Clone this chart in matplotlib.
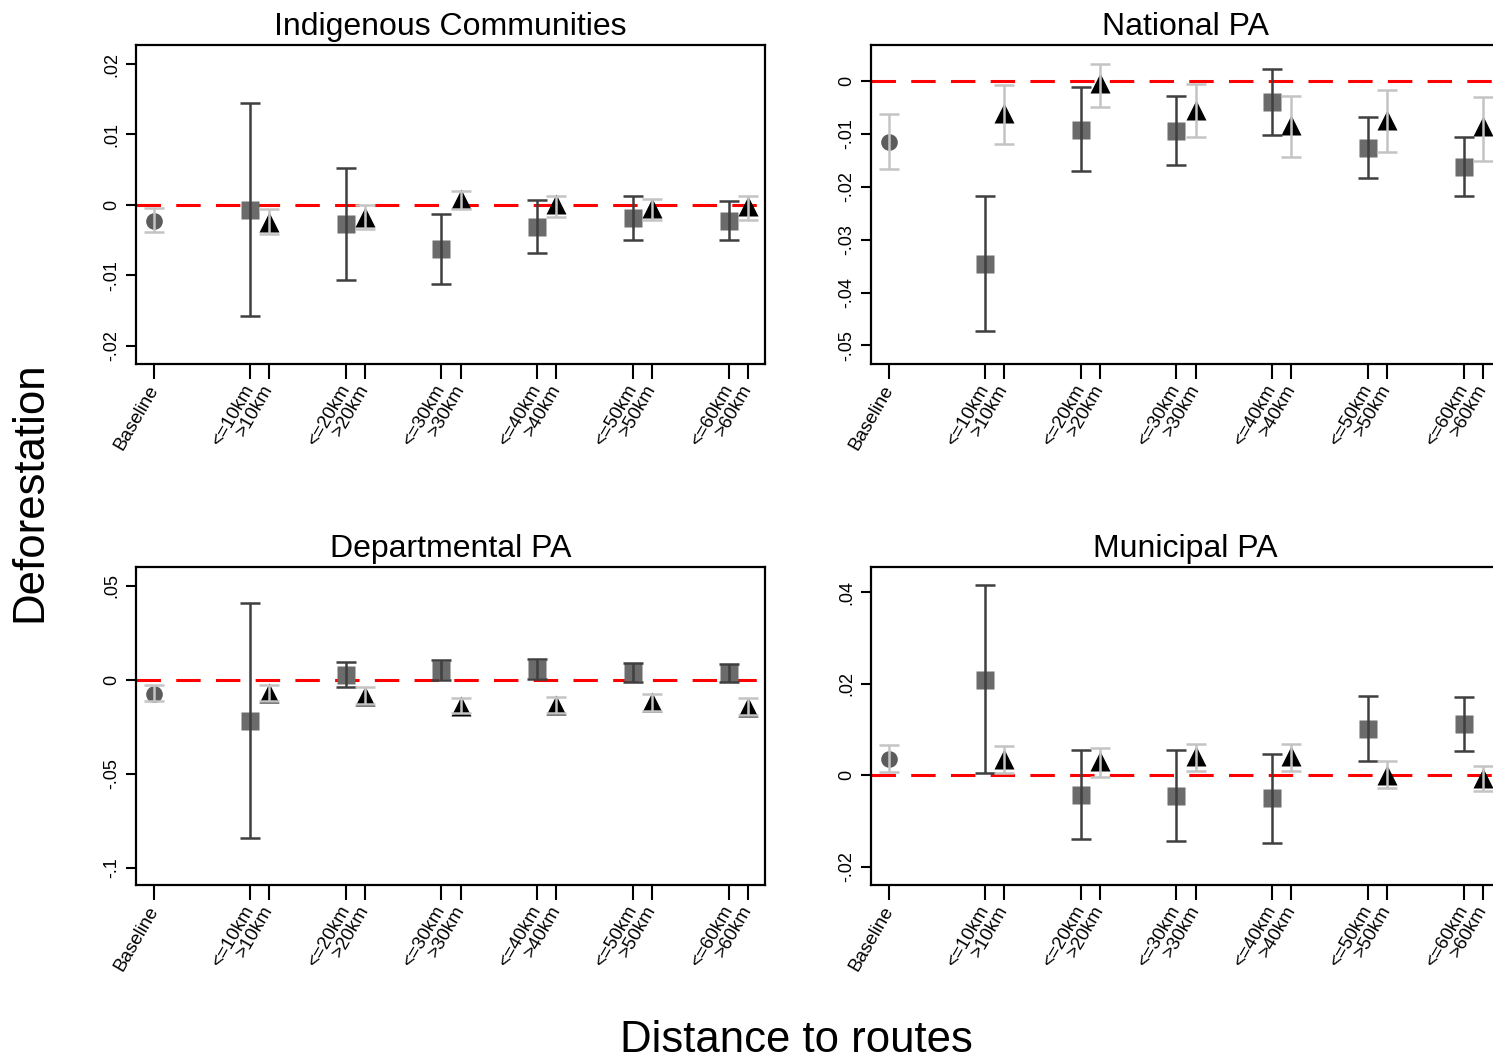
import matplotlib
matplotlib.use('Agg')
import matplotlib.pyplot as plt
import matplotlib.transforms as mtransforms
import numpy as np

plt.rcParams['font.family'] = ['Liberation Sans', 'DejaVu Sans']

# x layout: baseline, then pairs (<=k, >k)
TICK_LABELS = ["Baseline",
               "<=10km", ">10km", "<=20km", ">20km", "<=30km", ">30km",
               "<=40km", ">40km", "<=50km", ">50km", "<=60km", ">60km"]
X_BASE = [0.0]
X_NEAR = [1, 2, 3, 4, 5, 6]
X_FAR = [1.2, 2.2, 3.2, 4.2, 5.2, 6.2]

TITLES = ["Indigenous Communities", "National PA", "Departmental PA", "Municipal PA"]

# Indigenous Communities
ic_base = [-0.0023, -0.0004, -0.0039]
ic_near = [-0.0007, -0.0027, -0.0062, -0.0031, -0.0019, -0.0023]
ic_near_lo = [-0.0158, -0.0107, -0.0112, -0.0069, -0.0050, -0.0050]
ic_near_hi = [0.0145, 0.0053, -0.0013, 0.0007, 0.0013, 0.0006]
ic_far = [-0.0024, -0.0017, 0.0009, 0.0001, -0.0005, -0.0002]
ic_far_lo = [-0.0042, -0.0035, -0.0006, -0.0017, -0.0022, -0.0021]
ic_far_hi = [-0.0006, 0.0000, 0.0020, 0.0012, 0.0009, 0.0013]

# National PA
np_base = [-0.0115, -0.0063, -0.0166]
np_near = [-0.0346, -0.0092, -0.0094, -0.0040, -0.0126, -0.0162]
np_near_lo = [-0.0473, -0.0170, -0.0159, -0.0102, -0.0184, -0.0217]
np_near_hi = [-0.0218, -0.0011, -0.0029, 0.0022, -0.0068, -0.0106]
np_far = [-0.0061, -0.0003, -0.0054, -0.0084, -0.0074, -0.0086]
np_far_lo = [-0.0120, -0.0049, -0.0106, -0.0143, -0.0135, -0.0152]
np_far_hi = [-0.0008, 0.0033, -0.0006, -0.0028, -0.0018, -0.0031]

# Departmental PA
dp_base = [-0.0073, -0.0028, -0.0113]
dp_near = [-0.0216, 0.0025, 0.0055, 0.0060, 0.0041, 0.0037]
dp_near_lo = [-0.0840, -0.0039, 0.0002, 0.0007, -0.0011, -0.0012]
dp_near_hi = [0.0411, 0.0094, 0.0105, 0.0112, 0.0089, 0.0083]
dp_far = [-0.0069, -0.0087, -0.0137, -0.0135, -0.0119, -0.0144]
dp_far_lo = [-0.0113, -0.0128, -0.0177, -0.0176, -0.0163, -0.0188]
dp_far_hi = [-0.0025, -0.0037, -0.0096, -0.0092, -0.0073, -0.0096]

# Municipal PA
mp_base = [0.0035, 0.0065, 0.0006]
mp_near = [0.0209, -0.0043, -0.0046, -0.0050, 0.0102, 0.0112]
mp_near_lo = [0.0004, -0.0139, -0.0144, -0.0148, 0.0031, 0.0052]
mp_near_hi = [0.0416, 0.0056, 0.0056, 0.0047, 0.0173, 0.0171]
mp_far = [0.0035, 0.0031, 0.0041, 0.0041, 0.0001, -0.0007]
mp_far_lo = [0.0004, -0.0003, 0.0009, 0.0009, -0.0029, -0.0035]
mp_far_hi = [0.0064, 0.0059, 0.0069, 0.0068, 0.0031, 0.0020]

panels = [
    (ic_base, ic_near, ic_near_lo, ic_near_hi, ic_far, ic_far_lo, ic_far_hi,
     (-0.0226, 0.0227), [-0.02, -0.01, 0, 0.01, 0.02], ["-.02", "-.01", "0", ".01", ".02"]),
    (np_base, np_near, np_near_lo, np_near_hi, np_far, np_far_lo, np_far_hi,
     (-0.0535, 0.0068), [-0.05, -0.04, -0.03, -0.02, -0.01, 0], ["-.05", "-.04", "-.03", "-.02", "-.01", "0"]),
    (dp_base, dp_near, dp_near_lo, dp_near_hi, dp_far, dp_far_lo, dp_far_hi,
     (-0.109, 0.060), [-0.1, -0.05, 0, 0.05], ["-.1", "-.05", "0", ".05"]),
    (mp_base, mp_near, mp_near_lo, mp_near_hi, mp_far, mp_far_lo, mp_far_hi,
     (-0.0240, 0.0455), [-0.02, 0, 0.02, 0.04], ["-.02", "0", ".02", ".04"]),
]

W, H = 1493, 1061
fig = plt.figure(figsize=(W / 100, H / 100), dpi=100)
fig.patch.set_facecolor('white')

# axes boxes in pixels (left, top, right, bottom); right column runs past the edge
boxes = [(136, 45, 765, 364), (871, 45, 1500, 364),
         (136, 567, 765, 885), (871, 567, 1500, 885)]

SQ = '#6b6b6b'
DARK = '#3f3f3f'
LIGHT = '#c4c4c4'
CIRC = '#5c5c5c'

for (l, t, r, b), title, p in zip(boxes, TITLES, panels):
    base, near, nlo, nhi, far, flo, fhi, ylim, yt, ytl = p
    ax = fig.add_axes([l / W, 1 - b / H, (r - l) / W, (b - t) / H])
    ax.set_xlim(-0.19, 6.38)
    ax.set_ylim(*ylim)
    ax.axhline(0, color='red', lw=2.2, dashes=(8, 5), zorder=1)

    # markers first, CIs drawn over them
    ax.plot(X_BASE, [base[0]], 'o', ms=12, color=CIRC, mec='none', zorder=2)
    ax.plot(X_NEAR, near, 's', ms=13, color=SQ, mec='none', zorder=2)
    ax.plot(X_FAR, far, '^', ms=14, color='black', mec='none', zorder=2)

    ax.errorbar(X_BASE, [base[0]], yerr=[[base[0] - base[2]], [base[1] - base[0]]],
                fmt='none', ecolor=LIGHT, elinewidth=1.8, capsize=7, capthick=1.8, zorder=3)
    ax.errorbar(X_NEAR, near, yerr=[np.array(near) - np.array(nlo), np.array(nhi) - np.array(near)],
                fmt='none', ecolor=DARK, elinewidth=1.8, capsize=7, capthick=1.8, zorder=3)
    ax.errorbar(X_FAR, far, yerr=[np.array(far) - np.array(flo), np.array(fhi) - np.array(far)],
                fmt='none', ecolor=LIGHT, elinewidth=1.8, capsize=7, capthick=1.8, zorder=3)

    ax.set_xticks(X_BASE + [v for pair in zip(X_NEAR, X_FAR) for v in pair])
    ax.set_xticklabels(TICK_LABELS, rotation=60, ha='right', va='center',
                       rotation_mode='anchor', fontsize=13.5)
    ax.set_yticks(yt)
    ax.set_yticklabels(ytl, rotation=90, va='center', fontsize=13)
    ax.tick_params(axis='x', length=11, width=1.5, direction='out', pad=5, color='black')
    ax.tick_params(axis='y', length=7, width=1.5, direction='out', pad=4, color='black')
    for s in ax.spines.values():
        s.set_linewidth(1.6)
        s.set_color('black')
    ax.set_title(title, fontsize=23, pad=7)

fig.text(30 / W, 1 - 492 / H, "Deforestation", rotation=90, fontsize=31.5,
         ha='center', va='center')
fig.text(796 / W, 1 - 1040 / H, "Distance to routes", fontsize=31.5,
         ha='center', va='center')

plt.savefig("out.png", dpi=100, facecolor='white')
plt.close()
